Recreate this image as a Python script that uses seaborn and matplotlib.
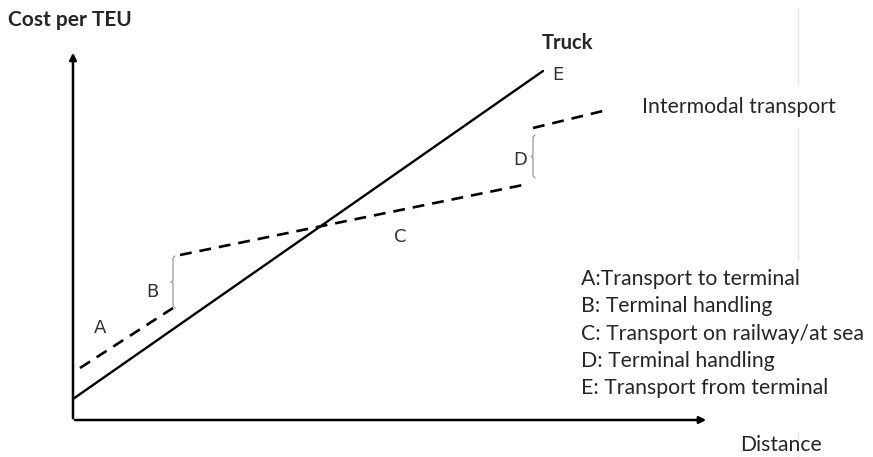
import matplotlib.pyplot as plt
import seaborn as sns
import pandas as pd

# 数据（距离 / 每TEU成本，单位与图中坐标轴对应）
truck_distance = [0, 470]
truck_cost = [21, 349]

leg_a_distance = [7, 100]
leg_a_cost = [52, 112]
leg_c_distance = [107, 450]
leg_c_cost = [165, 235]
leg_e_distance = [460, 534]
leg_e_cost = [292, 310]

bracket_b = (100, 112, 164)   # 距离, 起点成本, 终点成本
bracket_d = (460, 242, 285)

segment_labels = ['A', 'B', 'C', 'D', 'E']
segment_label_pos = [(27, 92), (79, 128), (327, 183), (447, 260), (485, 345)]
legend_lines = ['A:Transport to terminal',
                'B: Terminal handling',
                'C: Transport on railway/at sea',
                'D: Terminal handling',
                'E: Transport from terminal']

sns.set_style("white")
plt.rcParams['font.family'] = ['Lato', 'DejaVu Sans']

fig = plt.figure(figsize=(8.73, 4.57), dpi=100)
ax = fig.add_axes([0, 0, 1, 1])
ax.set_xlim(-73, 800)
ax.set_ylim(-37, 420)
ax.axis('off')

# 卡车成本线
truck = pd.DataFrame({'distance': truck_distance, 'cost': truck_cost})
sns.lineplot(data=truck, x='distance', y='cost', ax=ax, color='black', linewidth=1.7)

# 多式联运成本线（分段虚线）
for d, c in [(leg_a_distance, leg_a_cost), (leg_c_distance, leg_c_cost), (leg_e_distance, leg_e_cost)]:
    seg = pd.DataFrame({'distance': d, 'cost': c})
    sns.lineplot(data=seg, x='distance', y='cost', ax=ax, color='black',
                 linewidth=1.9, dashes=False)
    ax.lines[-1].set_dashes((4.5, 3))

# 码头装卸的括号
for x, lo, hi in [bracket_b, bracket_d]:
    mid = (lo + hi) / 2
    ax.plot([x + 2, x, x, x - 2, x, x, x + 2],
            [lo, lo + 2, mid - 1, mid, mid + 1, hi - 2, hi],
            color='#999999', linewidth=0.9)

# 坐标轴箭头
ax.annotate('', xy=(0, 370), xytext=(0, -1),
            arrowprops=dict(arrowstyle='-|>', color='black', lw=1.8, mutation_scale=10))
ax.annotate('', xy=(636, 0), xytext=(-1, 0),
            arrowprops=dict(arrowstyle='-|>', color='black', lw=1.8, mutation_scale=10))

# 右侧淡灰色竖线
for lo, hi in [(335, 412), (160, 292), (-37, -12)]:
    ax.plot([725, 725], [lo, hi], color='#e6e6e6', linewidth=1)

# 文字
ax.text(-65, 400, 'Cost per TEU', fontsize=15, fontweight='bold', va='center', ha='left')
ax.text(469, 377, 'Truck', fontsize=14.5, fontweight='bold', va='center', ha='left')
ax.text(569, 313, 'Intermodal transport', fontsize=15.3, va='center', ha='left')
ax.text(667, -25, 'Distance', fontsize=15.2, va='center', ha='left')

for lab, (x, y) in zip(segment_labels, segment_label_pos):
    ax.text(x, y, lab, fontsize=13, color='#333333', family='DejaVu Sans',
            va='center', ha='center')

for i, line in enumerate(legend_lines):
    ax.text(508, 141 - i * 27.3, line, fontsize=15.3, va='center', ha='left')

fig.savefig('out.png', dpi=100)
